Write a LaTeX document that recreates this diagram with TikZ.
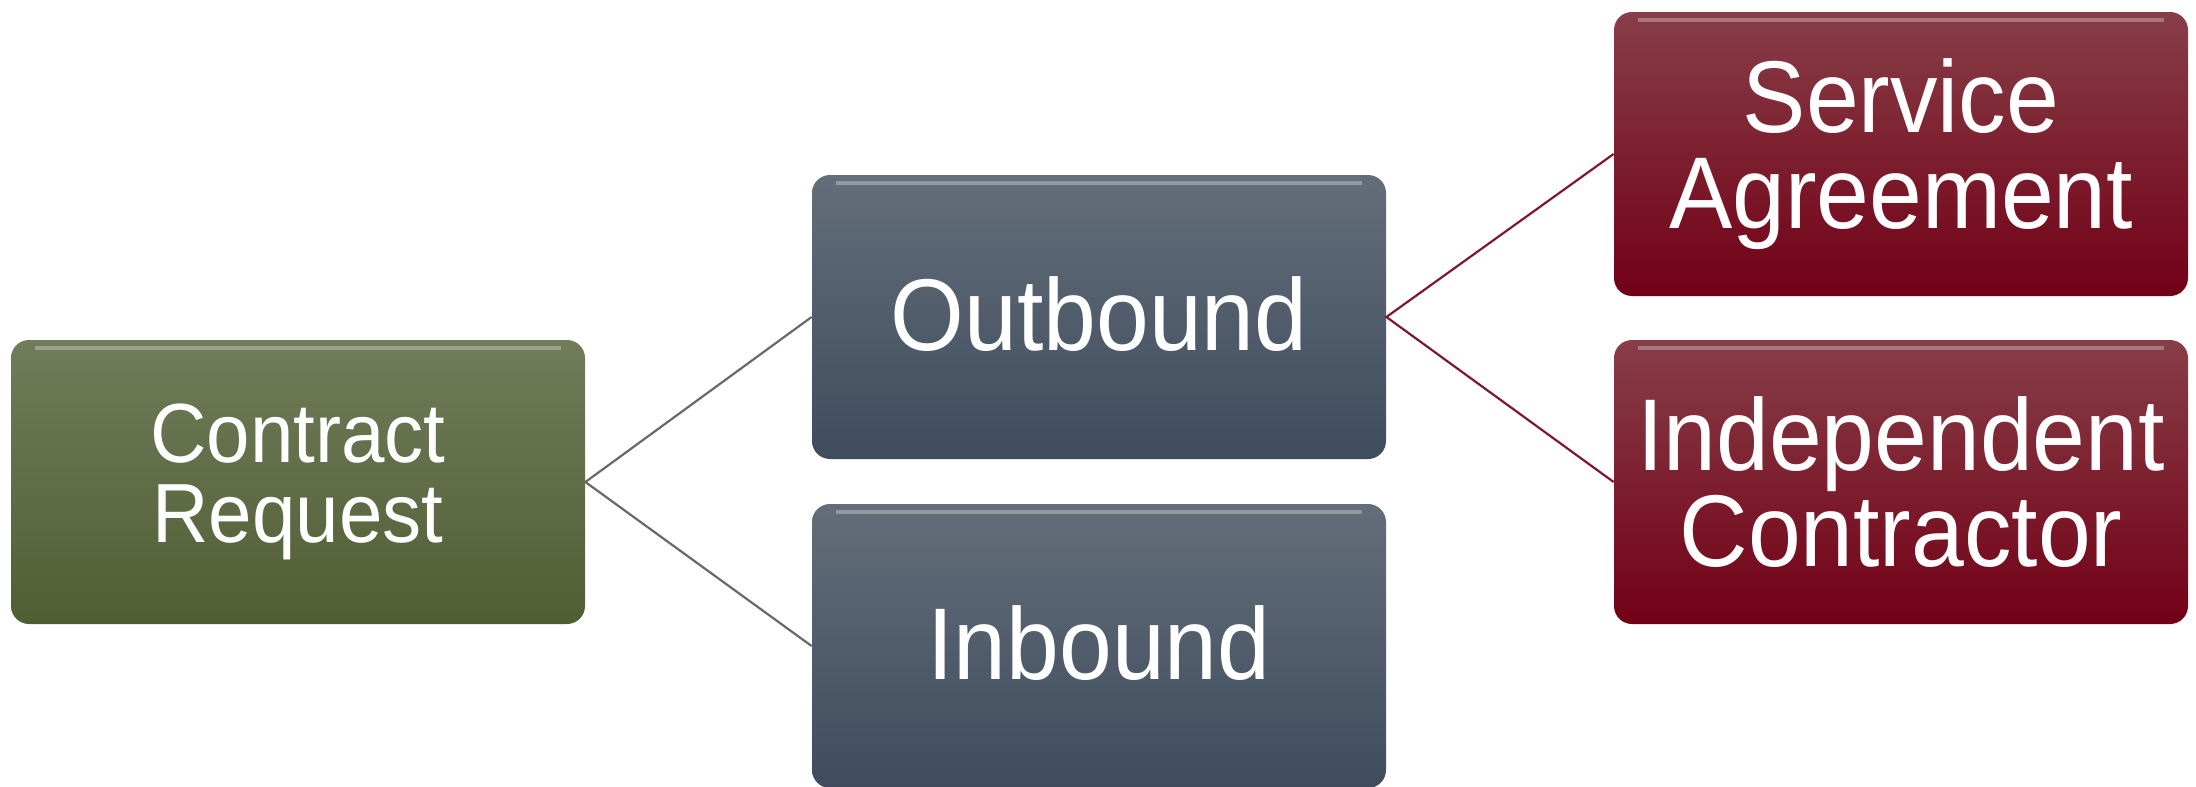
\documentclass[tikz,border=0pt]{standalone}
\usepackage{fontspec}
\setmainfont{Liberation Sans}[FakeStretch=0.93]
\usetikzlibrary{positioning}

\definecolor{greentop}{RGB}{112,124,90}
\definecolor{greenbot}{RGB}{80,94,52}
\definecolor{slatetop}{RGB}{100,110,122}
\definecolor{slatebot}{RGB}{62,76,93}
\definecolor{winetop}{RGB}{135,62,72}
\definecolor{winebot}{RGB}{114,0,22}
\definecolor{greyline}{RGB}{105,105,105}
\definecolor{redline}{RGB}{125,25,45}

\tikzset{
  block/.style={rounded corners=9pt, minimum width=287pt, minimum height=142pt,
    align=center, text=white, inner sep=0pt,
    path picture={\draw[white, opacity=0.3, line width=2pt]
      ([xshift=12pt,yshift=-4pt]path picture bounding box.north west) --
      ([xshift=-12pt,yshift=-4pt]path picture bounding box.north east);}},
  greenblock/.style={block, top color=greentop, bottom color=greenbot,
    font=\fontsize{42}{40}\selectfont},
  slateblock/.style={block, top color=slatetop, bottom color=slatebot,
    font=\fontsize{51}{48}\selectfont},
  wineblock/.style={block, top color=winetop, bottom color=winebot,
    font=\fontsize{51}{48}\selectfont},
  greylink/.style={draw=greyline, line width=1.1pt},
  redlink/.style={draw=redline, line width=1.1pt}
}

\begin{document}
\begin{tikzpicture}[x=0.5pt,y=0.5pt,yscale=-1]
\useasboundingbox (0,0) rectangle (2196,787);

% boxes
\node[greenblock] (request) at (298,482) {Contract\\Request};
\node[slateblock] (outbound) at (1099,317) {\raisebox{3pt}{Outbound}};
\node[slateblock] (inbound) at (1099,646) {\raisebox{3pt}{Inbound}};
\node[wineblock] (service) at (1901,154) {Service\\Agreement};
\node[wineblock] (contractor) at (1901,482) {Independent\\Contractor};

% links
\draw[greylink] (outbound.west) -- (request.east) -- (inbound.west);
\draw[redlink] (service.west) -- (outbound.east) -- (contractor.west);

\end{tikzpicture}
\end{document}
